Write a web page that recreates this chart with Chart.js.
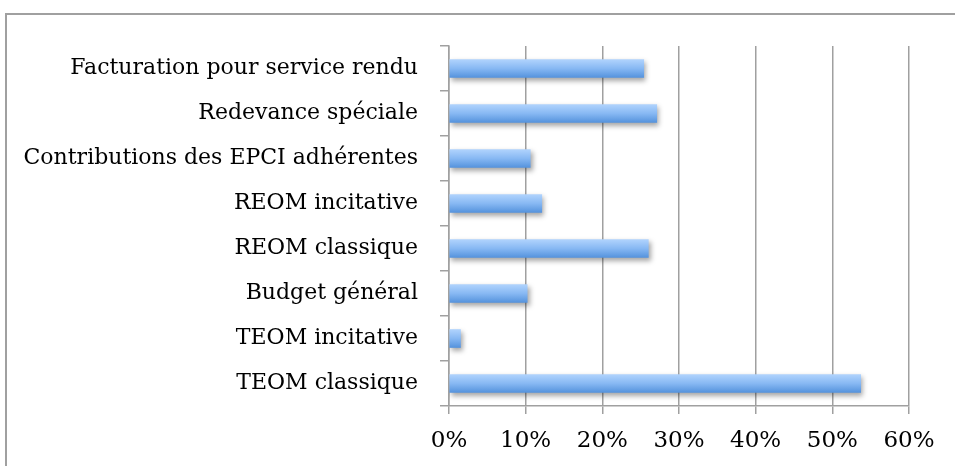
<!DOCTYPE html>
<html>
<head>
<meta charset="utf-8">
<script src="https://cdn.jsdelivr.net/npm/chart.js@4"></script>
<style>
  html, body { margin: 0; padding: 0; background: #fff; overflow: hidden; }
  #wrap { position: relative; width: 955px; height: 466px; }
  #cadre { position: absolute; left: 5px; top: 13px; width: 1000px; height: 600px; border: 2px solid #a0a0a0; }
  canvas { position: absolute; left: 0; top: 0; }
</style>
</head>
<body>
<div id="wrap">
  <div id="cadre"></div>
  <canvas id="graphique" width="955" height="466"></canvas>
</div>
<script>
// Catégories (du haut vers le bas) et parts en %
const categories = [
  "Facturation pour service rendu",
  "Redevance spéciale",
  "Contributions des EPCI adhérentes",
  "REOM incitative",
  "REOM classique",
  "Budget général",
  "TEOM incitative",
  "TEOM classique"
];
const valeurs = [25.4, 27.1, 10.6, 12.1, 26.0, 10.2, 1.5, 53.7];
const ticksX = [0, 10, 20, 30, 40, 50, 60];

const policeY = { family: "'DejaVu Serif', serif", size: 22 };
const policeX = { family: "'DejaVu Serif', serif", size: 23 };

// ombre portée sous les barres
const ombre = {
  id: "ombre",
  beforeDatasetsDraw(chart) {
    const ctx = chart.ctx;
    ctx.save();
    ctx.shadowColor = "rgba(0,0,0,0.35)";
    ctx.shadowBlur = 5;
    ctx.shadowOffsetX = 2;
    ctx.shadowOffsetY = 3;
  },
  afterDatasetsDraw(chart) {
    chart.ctx.restore();
  }
};

function degrade(context) {
  const chart = context.chart;
  const y = chart.scales.y;
  if (!y || !chart.chartArea) return "#7fb0ef";
  const centre = y.getPixelForValue(context.dataIndex);
  const g = chart.ctx.createLinearGradient(0, centre - 9, 0, centre + 9);
  g.addColorStop(0, "#b0d3fd");
  g.addColorStop(0.5, "#87b8f3");
  g.addColorStop(1, "#5593dd");
  return g;
}

const ctx = document.getElementById("graphique").getContext("2d");
new Chart(ctx, {
  type: "bar",
  data: {
    labels: categories,
    datasets: [{
      data: valeurs,
      backgroundColor: degrade,
      borderWidth: 0,
      barThickness: 18
    }]
  },
  plugins: [ombre],
  options: {
    indexAxis: "y",
    responsive: false,
    animation: false,
    layout: { padding: { left: 0, top: 46, right: 46, bottom: 0 } },
    plugins: { legend: { display: false }, tooltip: { enabled: false } },
    scales: {
      x: {
        min: 0,
        max: 60,
        afterBuildTicks(axis) { axis.ticks = ticksX.map(v => ({ value: v })); },
        afterFit(axis) { axis.height = 60; },
        ticks: {
          color: "#000",
          font: policeX,
          padding: 13,
          maxRotation: 0,
          callback: v => v + "%"
        },
        grid: { color: "#a0a0a0", lineWidth: 1.5, tickLength: 8 },
        border: { color: "#a0a0a0", width: 1.5 }
      },
      y: {
        afterFit(axis) { axis.width = 449; },
        ticks: { color: "#000", font: policeY, padding: 22 },
        grid: { offset: true, drawOnChartArea: false, color: "#a0a0a0", lineWidth: 1.5, tickLength: 9 },
        border: { color: "#a0a0a0", width: 1.5 }
      }
    }
  }
});
</script>
</body>
</html>
